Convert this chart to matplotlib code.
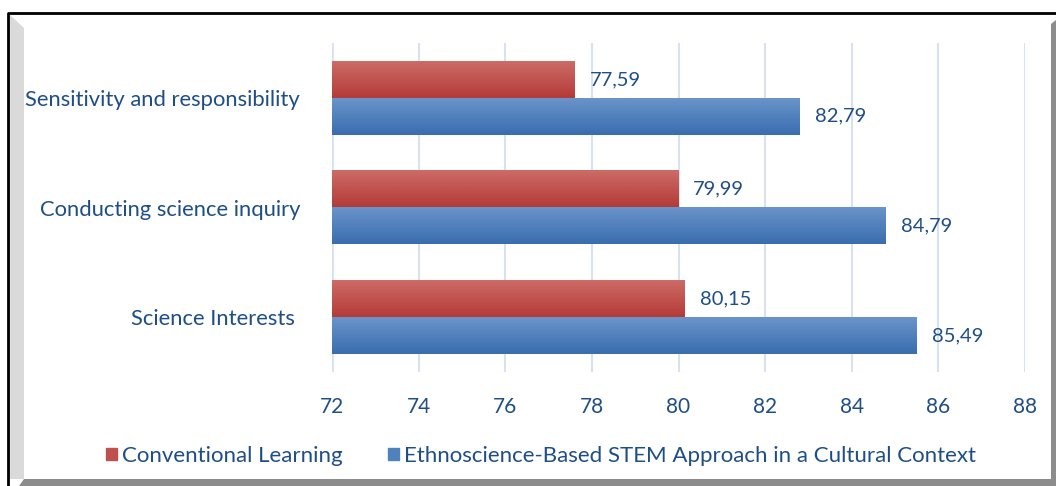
import numpy as np
import matplotlib
matplotlib.use('Agg')
import matplotlib.pyplot as plt
from matplotlib.patches import Polygon
from matplotlib.lines import Line2D

# Données du graphique
categories = ['Sensitivity and responsibility', 'Conducting science inquiry', 'Science Interests ']
conventional = [77.59, 79.99, 80.15]
ethno = [82.79, 84.79, 85.49]
series_names = ['Conventional Learning', 'Ethnoscience-Based STEM Approach in a Cultural Context']
xticks = [72, 74, 76, 78, 80, 82, 84, 86, 88]

text_col = '#1f4e86'
red_top, red_bot = '#cd6b67', '#b43b37'
blue_top, blue_bot = '#6a94c9', '#3a6daf'

plt.rcParams['font.family'] = ['Lato', 'DejaVu Sans']

W, H = 1056, 486
fig = plt.figure(figsize=(W / 100, H / 100), dpi=100)

# Cadre façon Excel (bordure noire + biseau gris)
def px(x, y):
    return (x / W, 1 - y / H)

fig.patches.append(Polygon([px(9, 14), px(24, 28), px(24, 479), px(9, 479)], closed=True,
                           facecolor='#dadada', edgecolor='none', transform=fig.transFigure))
fig.patches.append(Polygon([px(1051, 24), px(1056, 20), px(1056, 486), px(1051, 486)], closed=True,
                           facecolor='#8c8c8c', edgecolor='none', transform=fig.transFigure))
fig.patches.append(Polygon([px(19, 486), px(24, 479), px(1056, 479), px(1056, 486)], closed=True,
                           facecolor='#8c8c8c', edgecolor='none', transform=fig.transFigure))
fig.lines.append(Line2D([8 / W, 8 / W, 1 - 0 / W], [1 - 486 / H, 1 - 13 / H, 1 - 13 / H],
                        color='black', lw=2, transform=fig.transFigure))

ax = fig.add_axes([332 / W, 1 - 372 / H, (1025 - 332) / W, (372 - 43) / H])

y = np.arange(len(categories))
h = 0.336
bars_red = ax.barh(y - h / 2, [v - 72 for v in conventional], left=72, height=h, color=red_bot, zorder=2)
bars_blue = ax.barh(y + h / 2, [v - 72 for v in ethno], left=72, height=h, color=blue_bot, zorder=2)

# Dégradé vertical sur chaque barre
def gradient(bars, c_top, c_bot):
    top = np.array(matplotlib.colors.to_rgb(c_top))
    bot = np.array(matplotlib.colors.to_rgb(c_bot))
    t = np.linspace(0, 1, 64)[:, None]
    img = (top * (1 - t) + bot * t)[:, None, :]
    for b in bars:
        x0, y0, w, hh = b.get_x(), b.get_y(), b.get_width(), b.get_height()
        ax.imshow(img, extent=(x0, x0 + w, y0 + hh, y0), aspect='auto', zorder=3,
                  interpolation='bilinear')

gradient(bars_red, red_top, red_bot)
gradient(bars_blue, blue_top, blue_bot)

for vals, off in [(conventional, -h / 2), (ethno, h / 2)]:
    for i, v in enumerate(vals):
        ax.annotate(f'{v:.2f}'.replace('.', ','), (v, i + off), xytext=(11, 0),
                    textcoords='offset points', va='center', ha='left',
                    fontsize=14.5, color=text_col, zorder=4)

ax.set_xlim(72, 88)
ax.set_ylim(2.5, -0.5)
ax.set_xticks(xticks)
ax.set_xticklabels([str(t) for t in xticks], fontsize=15, color=text_col)
ax.set_yticks(y)
ax.set_yticklabels(categories, fontsize=15.8, color=text_col)
ax.tick_params(axis='both', length=0)
ax.tick_params(axis='x', pad=18)
ax.tick_params(axis='y', pad=23)
ax.grid(axis='x', color='#d6e2f2', lw=1.5, zorder=0)
ax.set_axisbelow(True)
for s in ax.spines.values():
    s.set_visible(False)
ax.axvline(72, color='#d6e2f2', lw=2, zorder=1)

handles = [matplotlib.patches.Patch(color='#c0504d'), matplotlib.patches.Patch(color='#4f81bd')]
fig.legend(handles, series_names, loc='center', bbox_to_anchor=(541 / W, 1 - 456 / H), ncol=2,
           frameon=False, fontsize=16, labelcolor=text_col, handlelength=0.5, handleheight=0.5,
           handletextpad=0.25, columnspacing=2.0)

fig.savefig('out.png', dpi=100)
